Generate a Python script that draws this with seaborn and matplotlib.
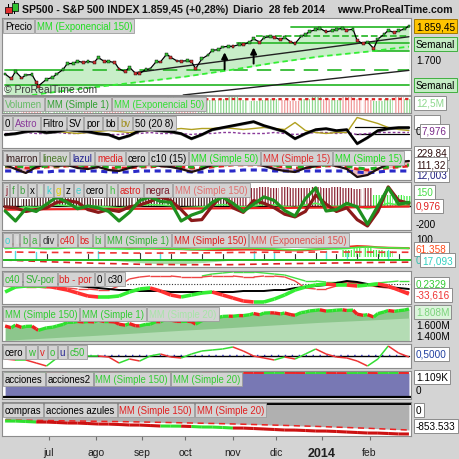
import numpy as np
import pandas as pd
import matplotlib
matplotlib.use("Agg")
import matplotlib.pyplot as plt
from matplotlib.patches import Rectangle
import seaborn as sns

sns.set_theme(style="white")
plt.rcParams["font.family"] = ["Liberation Sans", "DejaVu Sans"]
plt.rcParams["hatch.linewidth"] = 0.9

nan = np.nan

# ---------------- datos ----------------
fechas_precio = ['2013-05-31','2013-06-05','2013-06-07','2013-06-12','2013-06-14','2013-06-19','2013-06-21','2013-06-24','2013-06-28',
 '2013-07-03','2013-07-05','2013-07-10','2013-07-12','2013-07-17','2013-07-19','2013-07-24','2013-07-26','2013-07-31',
 '2013-08-02','2013-08-07','2013-08-09','2013-08-14','2013-08-16','2013-08-21','2013-08-23','2013-08-28','2013-08-30',
 '2013-09-04','2013-09-06','2013-09-11','2013-09-13','2013-09-18','2013-09-20','2013-09-25','2013-09-27',
 '2013-10-02','2013-10-04','2013-10-08','2013-10-11','2013-10-16','2013-10-18','2013-10-23','2013-10-25','2013-10-30',
 '2013-11-01','2013-11-06','2013-11-08','2013-11-13','2013-11-15','2013-11-20','2013-11-22','2013-11-27','2013-11-29',
 '2013-12-04','2013-12-06','2013-12-11','2013-12-13','2013-12-18','2013-12-20','2013-12-24','2013-12-27','2013-12-31',
 '2014-01-03','2014-01-08','2014-01-10','2014-01-15','2014-01-17','2014-01-22','2014-01-24','2014-01-29','2014-01-31',
 '2014-02-05','2014-02-07','2014-02-12','2014-02-14','2014-02-19','2014-02-21','2014-02-26','2014-02-28']
cierre = [1631,1608,1643,1612,1626,1628,1592,1573,1606,
 1615,1631,1652,1680,1681,1692,1685,1691,1686,
 1709,1690,1691,1685,1655,1642,1663,1634,1633,
 1653,1655,1690,1688,1725,1710,1693,1692,
 1694,1690,1656,1703,1721,1744,1746,1759,1763,
 1762,1771,1770,1782,1798,1782,1804,1808,1806,
 1793,1805,1783,1775,1811,1818,1833,1841,1848,
 1831,1837,1843,1848,1839,1844,1790,1774,1783,
 1752,1797,1819,1838,1828,1836,1845,1859.45]

fechas_mes = ['2013-05-31','2013-06-28','2013-07-31','2013-08-30','2013-09-30',
              '2013-10-31','2013-11-29','2013-12-31','2014-01-31','2014-02-28']
ema150 = [1512, 1540, 1568, 1593, 1617, 1650, 1684, 1714, 1737, 1761]

niveles = [1855, 1812, 1780, 1742, 1651, 1651, 1578]
nivel_desde = ['2013-12-11','2013-11-18','2013-11-05','2014-02-05','2013-05-31','2013-07-15','2013-05-31']
nivel_hasta = ['2014-02-28','2014-02-28','2014-02-28','2014-02-28','2013-07-15','2014-02-28','2014-02-28']
nivel_estilo = ['-', '--', '-', '-', '-', (0, (8, 5)), '-']
zona_semanal = [1742, 1780]

tend1_fechas, tend1 = ['2013-08-29', '2014-02-28'], [1639, 1808]
tend2_fechas, tend2 = ['2013-09-30', '2014-02-28'], [1531, 1648]
flechas_fechas = ['2013-10-28', '2013-11-15']
flechas_base = [1639, 1667]
flechas_punta = [1747, 1770]

# volumen (semanal)
volumen = [11,12,10,11,12,10,9,10,9,10,9,10,11,10,9,11,12,10,9,11,
           10,11,12,10,9,10,11,10,9,11,12,11,10,12,11,10,9,11,12,11]
vol_mm50 = [10.4,10.5,10.5,10.6,10.6,10.5,10.4,10.4,10.3,10.3,10.4,10.4,10.5,10.5,10.4,10.5,10.6,10.6,10.5,10.5,
            10.5,10.6,10.7,10.6,10.5,10.5,10.6,10.6,10.5,10.6,10.7,10.7,10.6,10.7,10.7,10.6,10.5,10.6,10.7,10.7]

# panel 3
p3_filtro = [-3,-2,0,1,-1,0,2,1,0,-2,-3,-7,-4,1,2,1,0,-2,-7,-3,2,4,6,8,10,6,3,0,-7,-2,2,3,1,2,-12,-6,1,3,4,4]
p3_sv = [-4,-3,-1,0,-2,-1,1,0,-1,-3,-4,-8,-5,0,1,0,-1,-3,-8,-4,1,3,5,7,9,5,2,-1,-8,-3,1,2,0,1,-13,-7,0,2,3,3]
p3_bv = [nan]*5 + [0,-1,-2,-1,0,1,0,-1,0,1,2,2,3,2,3,3,4,3,2,3,4,3,2,9,1,-1,-2,-1,-1,14,11,8,4,2,1]
p3_astro = [-2,-2,-1,-2,-2,-1,-2,-2,-1,-2,-3,-3,-2,-2,-1,-2,-2,-2,-3,-2,-2,-1,-1,-2,-2,-2,-1,-2,-3,-2,-1,-1,-2,-1,-3,-2,-1,-1,-1,-1]
p3_niveles = [5, -2.5]

# panel 4
p4_marron = [16,12,8,14,17,15,16,13,12,14,11,10,13,16,17,15,14,12,9,12,16,18,19,20,18,15,12,10,9,13,15,17,15,12,4,6,12,17,19,20]
p4_media = [14,14,13,13,14,14,15,15,14,14,13,13,13,14,14,15,15,14,13,13,14,15,16,16,16,16,15,14,13,13,14,15,15,14,12,11,12,13,14,15]
p4_verde = [15,15,14,14,15,15,16,16,15,15,14,14,14,15,15,16,16,15,14,14,15,16,17,17,17,17,16,15,14,14,15,16,16,15,13,12,13,14,15,16]
p4_azul = [10,10,10,9,9,10,10,10,10,10,9,9,9,10,10,10,10,10,9,9,10,10,10,11,11,11,10,10,10,10,10,10,10,10,9,8,9,10,10,10]

# panel 5
p5_verde = [-55,-165,-30,-60,20,100,40,-30,0,-20,-60,-165,-70,60,100,50,40,-165,-100,-60,
            40,100,30,-60,20,100,60,-50,-110,80,200,-55,-40,30,-10,-200,0,200,20,40]
p5_granate = [-10,-20,-60,-40,-20,40,60,40,-40,-70,-40,-60,-10,10,50,100,60,-40,-160,-150,
              0,120,-20,-70,60,30,-20,-90,-120,-60,120,20,-60,-20,-150,-220,-60,210,60,30]
p5_mm150 = [-40,-40,-38,-37,-36,-35,-35,-34,-33,-33,-32,-32,-31,-30,-30,-29,-28,-28,-27,-27,
            -26,-25,-24,-24,-23,-22,-21,-21,-20,-19,-18,-17,-16,-15,-14,-12,-10,-8,-6,-5]
p5_h = [-20,-25,-10,-15,0,10,5,-5,0,-5,-10,-20,-10,5,15,10,5,-20,-15,-10,5,15,5,-10,0,15,10,-5,-15,10,30,0,-5,5,0,-30,-5,30,10,10]
p5_barras = [90,100,80,110,95,85,100,90,105,80,95,100,90,85,110,95,100,90,85,100,
             95,90,200,205,195,210,200,205,195,200,210,195,205,200,190,200,120,125,120,115]

# panel 6
p6_mm1 = [55,57,58,56,54,55,57,58,57,55,54,53,52,53,55,56,54,52,50,51,53,55,57,58,57,55,53,50,48,50,52,54,53,55,60,62,60,58,57,56]
p6_mm150 = [76,75,74,73,72,71,70,68,66,64,62,60,58,56,55,54,53,52,50,49,48,48,49,50,50,49,48,47,46,47,50,54,58,62,66,64,60,58,57,56]
p6_ema150 = [38,38,37,37,36,36,36,35,35,34,34,34,33,33,33,33,34,34,34,34,35,35,36,36,36,37,37,37,37,37,38,38,38,38,38,38,37,37,37,37]
p6_bi = [0]*11 + [-4,-8,-12,-15,-17,-18,-17,-15,-12,-8,-4] + [0]*18
p6_inferior = [0, -8, -15, -20, -22, -22, -18, -15, -12, -10]
p6_negras = [0,0,0,0,30,0,0,0,30,0,0,0,0,32,0,0,30,0,0,30,0,30,0,0,0,30,0,0,30,0,32,0,30,0,30,0,30,0,30,0]
p6_cian = [0,45,0,40,0,0,0,0,0,45,0,0,0,0,0,40,0,0,0,0,0,0,0,0,45,0,40,0,0,0,0,45,0,40,0,0,0,50,0,0]
p6_barras_v = [0]*33 + [50,55,55,50,45] + [0,0]

# panel 7
p7_sv = [-8,-3,-2,-2,-2,-4,-6,-9,-12,-13,-13,-12,-8,-5,-4,-7,-11,-13,-11,-9,
         -8,-11,-14,-17,-18,-18,-15,-11,-6,-3,-1,0,-1,-1,-2,-1,0,-2,-6,-10]
p7_c30 = [2,2,2,2,1,0,-1,-2,-3,-4,-5,-6,-6,-7,-7,-7,-8,-8,-8,-8,-8,-8,-8,-7,-7,-7,-6,-6,-4,-3,-2,-1,1,3,2,0,-2,-3,-4,-5]
p7_bb = [-2,-2,-3,-3,-4,-3,-4,-5,-5,-6,-6,-2,5,7,8,8,8,7,7,7,8,8,8,7,7,8,8,7,3,-4,-5,-5,-2,2,1,-1,-3,-4,-6,-8]
p7_c40 = [nan]*19 + [8,10,11,12,12,12,11,10,9,6,3,3,2,2,1,1,0,1,2,3,3]

# panel 8
p8_mm150 = [1440, 1470, 1505, 1540, 1575, 1610, 1645, 1680, 1710, 1738]

# panel 9
p9_c50 = [0.35,0.30,0.30,0.15,0.00,0.40,0.55,0.60,0.50,0.50,0.45,0.15,0.35,0.25,0.50,0.60,0.45,0.40,0.60,0.75,
          0.80,0.85,0.95,0.75,0.50,0.40,0.30,0.45,0.35,0.60,0.85,0.60,0.45,0.40,0.25,0.00,0.35,1.00,0.65,0.45]

# panel 10 (miles)
acciones = [1095,1098,1100,1101,1102,1100,1099,1101,1103,1104,1102,1100,1101,1103,1104,1105,1103,1104,1106,1107,
            1105,1106,1108,1112,1110,1109,1111,1112,1110,1108,1109,1110,1108,1107,1109,1110,1108,1109,1110,1109]

# panel 11 (miles)
compras = [-484,-486,-498,-512,-514,-526,-540,-542,-555,-569,-571,-583,-597,-599,-612,-626,-628,-630,-640,-654,
           -656,-668,-683,-685,-697,-711,-725,-740,-742,-754,-768,-770,-782,-797,-811,-825,-827,-839,-852,-853.5]
compras_verdes = [0, 1, 2, 15, 16, 18, 19, 20, 21]
compras_mm150 = [-455, -470, -490, -510, -535, -565, -600, -640, -690, -740]

meses = ['2013-07-01','2013-08-01','2013-09-02','2013-10-01','2013-11-01','2013-12-02','2014-01-01','2014-02-03']
meses_txt = ['jul', 'ago', 'sep', 'oct', 'nov', 'dic', '2014', 'feb']

# ---------------- ejes x ----------------
dias = pd.bdate_range('2013-05-31', '2014-02-28')
semanas = pd.date_range('2013-05-31', '2014-02-28', freq='W-FRI')

def idx(fechas):
    return dias.get_indexer(pd.to_datetime(fechas))

xs = idx(semanas)
xp = idx(fechas_precio)
xm = idx(fechas_mes)

cierre_sem = pd.Series(cierre, index=pd.to_datetime(fechas_precio)).resample('W-FRI').last().values

W = H = 460
X0, X1 = 2, 411
fig = plt.figure(figsize=(4.6, 4.6), dpi=100, facecolor='#d4d4d4')
renderer = fig.canvas.get_renderer()


def panel(top, bottom, ylim):
    ax = fig.add_axes([X0 / W, 1 - bottom / H, (X1 - X0) / W, (bottom - top) / H])
    ax.set_facecolor('white')
    ax.set_xlim(-1.5, 196)
    ax.set_ylim(*ylim)
    for s in ax.spines.values():
        s.set_color('#8c8c8c')
        s.set_linewidth(0.8)
    return ax


def linea(ax, x, y, **kw):
    sns.lineplot(x=np.asarray(x), y=np.asarray(y, dtype=float), ax=ax,
                 estimator=None, sort=False, legend=False, **kw)


def bicolor(ax, x, y, up, down, lw):
    for i in range(len(x) - 1):
        c = up if y[i + 1] >= y[i] else down
        ax.plot(x[i:i + 2], y[i:i + 2], color=c, lw=lw, solid_capstyle='butt')


def etiquetas(top, items, fs=6.9):
    pad = 0.2 * fs * 100 / 72
    x = X0 + 1 + pad
    for txt, col in items:
        t = fig.text(x / W, 1 - (top + 1 + pad) / H, txt, color=col, fontsize=fs,
                     ha='left', va='top', zorder=30,
                     bbox=dict(boxstyle='square,pad=0.2', fc='#d3d3d3', ec='#9c9c9c', lw=0.6))
        e = t.get_window_extent(renderer)
        x = e.x1 + 2 * pad + 1


def der(y, txt, tc='black', fc=None, ec='#8c8c8c', x=416, fs=7.2):
    bb = dict(boxstyle='square,pad=0.2', fc=fc, ec=ec, lw=0.7) if fc else None
    fig.text(x / W, 1 - y / H, txt, color=tc, fontsize=fs, ha='left', va='center',
             bbox=bb, zorder=40)


# ---------------- cabecera ----------------
fig.add_artist(Rectangle((8 / W, 1 - 17 / H), 1 / W, 12 / H, transform=fig.transFigure, color='black', lw=0))
fig.add_artist(Rectangle((5.5 / W, 1 - 14 / H), 6 / W, 6 / H, transform=fig.transFigure, fc='#e03030', ec='black', lw=0.5))
fig.add_artist(Rectangle((14 / W, 1 - 15 / H), 1 / W, 13 / H, transform=fig.transFigure, color='black', lw=0))
fig.add_artist(Rectangle((11.5 / W, 1 - 12 / H), 6 / W, 8 / H, transform=fig.transFigure, fc='#30c030', ec='black', lw=0.5))
for xpx, txt in [(22, 'SP500 - S&P 500 INDEX'), (142, '1.859,45 (+0,28%)'),
                 (233, 'Diario  28 feb 2014'), (337, 'www.ProRealTime.com')]:
    fig.text(xpx / W, 1 - 10 / H, txt, fontsize=7.6, weight='bold', color='#111111', va='center')

# ---------------- panel 1: precio ----------------
ax1 = panel(19, 96, (1531, 1897))
ax1.fill_between(xp, cierre, 1531, color='#c8eec8', lw=0)
ax1.fill_between(xm, ema150, 1531, color='white', lw=0)
ax1.fill_between(idx(['2014-02-05', '2014-02-28']), zona_semanal[0], zona_semanal[1], color='#c8eec8', lw=0)
for nv, d0, d1, st in zip(niveles, nivel_desde, nivel_hasta, nivel_estilo):
    ax1.plot(idx([d0, d1]), [nv, nv], color='#33bb33', lw=1.3, linestyle=st)
linea(ax1, idx(tend1_fechas), tend1, color='#222222', lw=1.0)
linea(ax1, idx(tend2_fechas), tend2, color='#222222', lw=1.0)
linea(ax1, xm, ema150, color='#33ee33', lw=1.3, linestyle=(0, (3, 2)))
linea(ax1, xp, cierre, color='black', lw=0.9)
cols = ['#2fbf2f'] + ['#2fbf2f' if b >= a else '#d03030' for a, b in zip(cierre[:-1], cierre[1:])]
ax1.scatter(xp, cierre, c=cols, s=4, marker='s', edgecolors='black', linewidths=0.3, zorder=5)
for fx, b, p in zip(idx(flechas_fechas), flechas_base, flechas_punta):
    ax1.annotate('', xy=(fx, p), xytext=(fx, b),
                 arrowprops=dict(arrowstyle='-|>', color='black', lw=1.4, mutation_scale=9))
ax1.text(0.005, 0.08, '\u00a9 ProRealTime.com', transform=ax1.transAxes, fontsize=7.5,
         color='#3a3a3a', va='center')
etiquetas(19, [('Precio', 'black'), ('MM (Exponencial 150)', '#22dd22')])
der(27, '1.859,45', fc='#ffc400', ec='#a07800')
der(45, 'Semanal', fc='#c4ecc4', ec='#40b040')
der(61, '1.700')
der(86, 'Semanal', fc='#c4ecc4', ec='#40b040')

# ---------------- panel 2: volumen ----------------
ax2 = panel(97, 114, (0, 13))
vcol = ['#f09a9a' if d < 0 else '#8ed88e' for d in np.r_[1, np.diff(cierre_sem)]]
ax2.bar(xs, volumen, width=4.8, color='none', edgecolor=vcol, hatch='||||||', lw=0)
linea(ax2, xs, vol_mm50, color='#dd2222', lw=1.6, linestyle=(0, (1.5, 1.5)))
etiquetas(97, [('Volumen', '#66bb66'), ('MM (Simple 1)', '#33a033'), ('MM (Exponencial 50)', '#33dd33')])
der(104, '12,5M', tc='#8cd88c', fc='white')

# ---------------- panel 3 ----------------
ax3 = panel(116, 149, (-16.5, 16.5))
for nv in p3_niveles:
    ax3.plot(idx(['2014-01-23', '2014-02-28']), [nv, nv], color='black', lw=0.9)
linea(ax3, xs, p3_astro, color='#8a3a9a', lw=1.0, linestyle=(0, (2, 1.5)))
linea(ax3, xs, p3_bv, color='#b0a020', lw=1.0)
linea(ax3, xs, p3_sv, color='#555555', lw=1.2)
linea(ax3, xs, p3_filtro, color='black', lw=1.8)
etiquetas(116, [('0', 'black'), ('Astro', '#8a3a9a'), ('Filtro', 'black'), ('SV', 'black'),
                ('por', 'black'), ('bb', 'black'), ('bv', '#a09020'), ('50 (20 8)', 'black')])
der(123, '        ', fc='white')
der(132, '0', x=416)
der(132, '7,976', tc='#7a2a8a', fc='white', x=422)

# ---------------- panel 4 ----------------
ax4 = panel(151, 181, (1, 31))
ax4.fill_between(xs, p4_marron, p4_media, color='#ecbcbc', lw=0)
linea(ax4, xs, p4_azul, color='#2a2ac8', lw=2.2, linestyle=(0, (2, 1.5)))
linea(ax4, xs, p4_media, color='#e02020', lw=2.0, linestyle=(0, (2, 1.5)))
linea(ax4, xs, p4_verde, color='#20b020', lw=2.2, linestyle=(0, (2, 2)))
linea(ax4, xs, p4_marron, color='#201010', lw=1.6)
etiquetas(151, [('lmarron', '#3a2020'), ('lineav', '#4a7a2a'), ('lazul', '#202090'), ('media', '#e02020'),
                ('cero', 'black'), ('c10 (15)', 'black'), ('MM (Simple 50)', '#22dd22'),
                ('MM (Simple 15)', '#e03030'), ('MM (Simple 15)', '#22dd22')])
der(154, '229,84', fc='white', tc='#301010')
der(176, '12,003', fc='white', tc='#202080')
der(165, '111,32', fc='white', tc='#301010')

# ---------------- panel 5 ----------------
ax5 = panel(183, 231, (-264, 264))
bcol = ['#4a2020'] * 22 + ['#8b2535'] * 14 + ['#44ee44'] * 4
ax5.bar(xs, p5_barras, width=4.8, color='none', edgecolor=bcol, hatch='||||||', lw=0)
ax5.axhline(0, color='black', lw=1.0)
linea(ax5, xs, p5_h, color='#55ee55', lw=1.2)
linea(ax5, xs, p5_mm150, color='#ee2222', lw=1.6)
linea(ax5, xs, p5_granate, color='#8b1a1a', lw=2.3)
linea(ax5, xs, p5_verde, color='#1f8f1f', lw=2.3)
etiquetas(183, [('j', '#8b1a2a'), ('f', '#40a040'), ('b', '#40a040'), ('x', 'black'), ('l', '#c8f4c8'),
                ('k', '#30d0d0'), ('g', '#e0d000'), ('z', 'black'), ('e', '#40d0d0'), ('cero', 'black'),
                ('h', '#40c040'), ('astro', '#e02020'), ('negra', '#7a1a2a'), ('MM (Simple 150)', '#e07070')])
der(193, '150', tc='#44dd44', fc='white')
der(207, '0,976', tc='#e02020', fc='white')
der(225, '-200')

# ---------------- panel 6 ----------------
ax6 = panel(233, 268, (-33, 133))
ax6.fill_between(xs, p6_bi, 0, color='#a8dca8', lw=0)
for x, h in zip(xs, p6_negras):
    if h > 0:
        ax6.plot([x, x], [0, h], color='#333333', lw=0.8)
for x, h in zip(xs, p6_cian):
    if h > 0:
        ax6.plot([x, x], [0, h], color='#55e0e0', lw=1.0)
ax6.bar(xs, [max(h - 15, 0) for h in p6_barras_v], bottom=15, width=4.8, color='none',
        edgecolor='#44ee44', hatch='||||||', lw=0)
linea(ax6, xm, p6_inferior, color='#dd2222', lw=1.2, linestyle=(0, (4, 3)))
ax6.axhline(0, color='#22bb22', lw=1.4)
linea(ax6, xs, p6_ema150, color='#ee3333', lw=1.2, linestyle=(0, (4, 3)))
linea(ax6, xs, p6_mm150, color='#ee3322', lw=1.6)
linea(ax6, xs, p6_mm1, color='#44ee44', lw=1.2)
etiquetas(233, [('o', '#40d0d0'), ('l', '#e6e6e6'), ('b', '#40b040'), ('a', '#40b040'), ('div', '#333333'),
                ('c40', '#e02020'), ('bs', '#e02020'), ('bi', '#40c040'), ('MM (Simple 1)', '#33b033'),
                ('MM (Simple 150)', '#e02020'), ('MM (Exponencial 150)', '#e05050')])
der(240, '100')
der(250, '61,358', tc='#ff4a1a', fc='white')
der(261, '0', tc='#30c0b0', x=416)
der(261, '17,093', tc='#30d0c0', fc='white', x=422)

# ---------------- panel 7 ----------------
ax7 = panel(272, 305, (-20, 13))
ax7.axhline(0, color='#333333', lw=0.8, linestyle=(0, (1, 1.5)))
bicolor(ax7, xs, p7_c40, '#44dd44', '#44dd44', 1.0)
bicolor(ax7, xs, p7_bb, '#ee4444', '#ee4444', 1.0)
linea(ax7, xs, p7_c30, color='black', lw=1.4)
bicolor(ax7, xs, p7_sv, '#33ee33', '#ff3030', 2.6)
etiquetas(272, [('c40', '#30c030'), ('SV-por', '#30b030'), ('bb - por', '#e02020'), ('0', 'black'), ('c30', 'black')])
der(285, '0,2329', tc='#33cc33', fc='white')
der(296, '-33,616', tc='#ee3333', fc='white')

# ---------------- panel 8 ----------------
ax8 = panel(307, 342, (1430, 1899))
ax8.fill_between(xp, cierre, 1430, color='#8cc68c', lw=0)
ax8.fill_between(xm, p8_mm150, 1430, color='#b4dcb4', lw=0)
bicolor(ax8, xp, cierre, '#2ee02e', '#ee2020', 2.4)
etiquetas(307, [('MM (Simple 150)', '#33cc33'), ('MM (Simple 1)', '#33cc33'), ('MM (Simple 20)', '#a8e4a8')])
der(326, '1.600M')
der(337, '1.400M')
der(313, '1.808M', tc='#7cd47c', fc='#dcf4dc')

# ---------------- panel 9 ----------------
ax9 = panel(345, 369, (-0.1, 1.1))
ax9.plot(idx(['2013-07-15', '2014-02-28']), [0.5, 0.5], color='black', lw=1.0)
ax9.plot(idx(['2013-07-15', '2014-02-28']), [0.53, 0.53], color='#2a2ab0', lw=1.0, linestyle=(0, (1, 4)))
bicolor(ax9, xs, p9_c50, '#33dd33', '#ee3333', 1.1)
etiquetas(345, [('cero', 'black'), ('w', '#30c030'), ('v', '#e02020'), ('o', '#30c030'), ('u', '#202090'), ('c50', '#30c030')])
der(355, '0,5000', tc='#2040a0', fc='white')

# ---------------- panel 10 ----------------
ax10 = panel(372, 400, (-92, 1201))
ax10.fill_between(xs, acciones, 0, color='#7878b4', lw=0)
ax10.axhline(0, color='black', lw=1.6)
bicolor(ax10, xs, acciones, '#33dd33', '#ee2222', 1.4)
etiquetas(372, [('acciones', 'black'), ('acciones2', 'black'), ('MM (Simple 150)', '#33cc33'), ('MM (Simple 20)', '#33cc33')])
der(378, '1.109K', fc='white')
der(391, '0')

# ---------------- panel 11 ----------------
ax11 = panel(403, 437, (-910, 57))
ax11.fill_between(xm, compras_mm150, 0, color='#b0b0b0', lw=0)
ax11.axhline(0, color='black', lw=1.4)
linea(ax11, xm, compras_mm150, color='#ee2222', lw=1.1, linestyle=(0, (4, 3)))
for i in range(len(xs) - 1):
    c = '#2ee02e' if i in compras_verdes else '#cc1111'
    ax11.plot(xs[i:i + 2], compras[i:i + 2], color=c, lw=2.2, solid_capstyle='butt')
etiquetas(403, [('compras', 'black'), ('acciones azules', 'black'), ('MM (Simple 150)', '#e02020'), ('MM (Simple 20)', '#e02020')])
der(411, '0', fc='white')
der(427, '-853.533', fc='white')

# ---------------- ejes ----------------
for ax in [ax1, ax2, ax3, ax4, ax5, ax6, ax7, ax8, ax9, ax10, ax11]:
    ax.set_xlabel('')
    ax.set_ylabel('')
    ax.set_yticks([])
    ax.set_xticks([])
    ax.set_xlim(-1.5, 196)

ax11.set_xticks(idx(meses))
ax11.set_xticklabels(meses_txt, fontsize=7.5, color='#202020')
ax11.tick_params(axis='x', bottom=True, length=3, width=0.8, color='#707070', pad=5)
lab = ax11.get_xticklabels()[6]
lab.set_fontweight('bold')
lab.set_fontsize(9)

fig.savefig('out.png', dpi=100, facecolor=fig.get_facecolor())
